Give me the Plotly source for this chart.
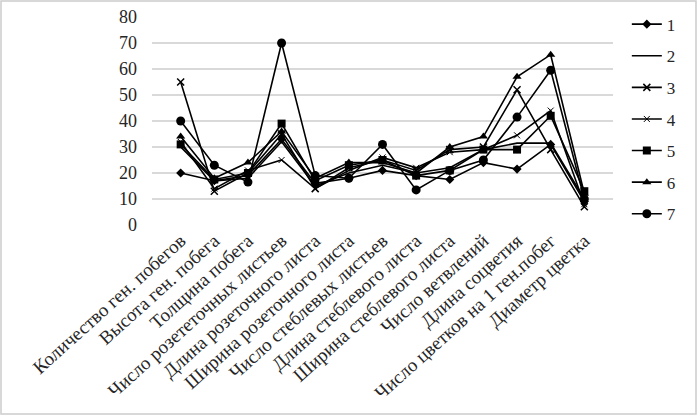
import plotly.graph_objects as go

categories = [
    "Количество ген. побегов",
    "Высота ген. побега",
    "Толщина побега",
    "Число розететочных листьев",
    "Длина розеточного листа",
    "Ширина розеточного листа",
    "Число стеблевых листьев",
    "Длина стеблевого листа",
    "Ширина стеблевого листа",
    "Число ветвлений",
    "Длина соцветия",
    "Число цветков на 1 ген.побег",
    "Диаметр цветка",
]

s1 = [20, 17, 19, 33, 16, 18, 21, 19, 17.5, 24, 21.5, 31, 9]
s2 = [30, 17, 18, 32, 15, 20, 23, 20, 22, 29, 31.5, 31.5, 10]
s3 = [55, 13, 20, 35, 14, 22, 25, 21, 29, 30, 52, 29, 7]
s4 = [32, 14, 21, 25, 14, 21, 26, 22, 28, 29, 34.5, 44, 8]
s5 = [31, 17.5, 20, 39, 17, 23, 25, 19, 21, 29, 29, 42, 13]
s6 = [34, 18, 24, 36, 18, 24, 24, 20, 30, 34, 57, 65.5, 12]
s7 = [40, 23, 16.5, 70, 19, 18, 31, 13.5, 21, 25, 41.5, 59.5, 10]

series_names = ["1", "2", "3", "4", "5", "6", "7"]
series_values = [s1, s2, s3, s4, s5, s6, s7]
y_ticks = [0, 10, 20, 30, 40, 50, 60, 70, 80]

markers = [
    dict(symbol="diamond", size=7),
    dict(symbol="line-ew", size=1, opacity=0),
    dict(symbol="x-thin", size=7, line=dict(width=1.5, color="black")),
    dict(symbol="x-thin", size=6, line=dict(width=1, color="black")),
    dict(symbol="square", size=8),
    dict(symbol="triangle-up", size=8),
    dict(symbol="circle", size=9),
]

fig = go.Figure()
for name, vals, mk in zip(series_names, series_values, markers):
    m = dict(color="black")
    m.update(mk)
    fig.add_trace(go.Scatter(
        x=categories, y=vals, name=name, mode="lines+markers",
        line=dict(color="black", width=1.6), marker=m,
        legendgroup=name,
    ))

W, H = 697, 415
ml, mr, mt, mb = 152, 84, 17, 190
pw, ph = W - ml - mr, H - mt - mb

fig.update_layout(
    width=W, height=H,
    margin=dict(l=ml, r=mr, t=mt, b=mb, autoexpand=False),
    paper_bgcolor="white", plot_bgcolor="white",
    font=dict(family="Liberation Serif, Times New Roman, serif", color="#262626"),
    showlegend=True,
    legend=dict(
        x=1.03, y=1.05, xanchor="left", yanchor="top",
        font=dict(size=17, color="#262626"),
        tracegroupgap=6.5, itemwidth=30, maxheight=1,
        bgcolor="rgba(0,0,0,0)",
    ),
    xaxis=dict(
        type="category", tickangle=-42, showgrid=False, automargin=False,
        tickfont=dict(size=19, color="#262626"),
        showline=False, ticks="",
    ),
    yaxis=dict(
        range=[0, 80], tickvals=y_ticks, showgrid=True, automargin=False,
        gridcolor="#d9d9d9", gridwidth=1.5, zeroline=False,
        tickfont=dict(size=18, color="#262626"),
        ticklabelstandoff=14, showline=False,
    ),
    shapes=[dict(
        type="rect", xref="paper", yref="paper",
        x0=(-ml + 1) / pw, x1=(pw + mr - 1) / pw,
        y0=(-mb + 1) / ph, y1=(ph + mt - 1) / ph,
        line=dict(color="#cccccc", width=1.5), fillcolor="rgba(0,0,0,0)",
    )],
)

fig.write_html(
    "out.html",
    config={"displayModeBar": False},
    post_script="document.body.style.margin='0';document.body.style.overflow='hidden';",
)
